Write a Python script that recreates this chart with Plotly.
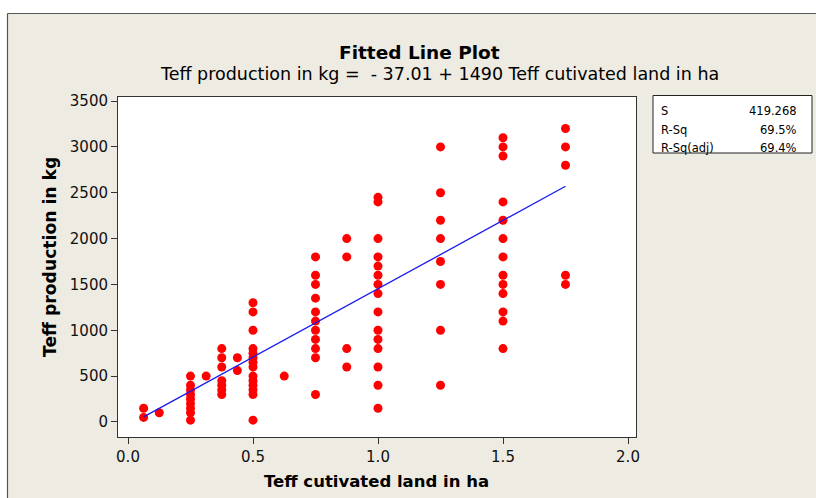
import plotly.graph_objects as go

# ---- data ----
land_ha = (
    [0.0625] * 2 + [0.125] + [0.25] * 9 + [0.3125] + [0.375] * 7 + [0.4375] * 2
    + [0.5] * 14 + [0.625] + [0.75] * 11 + [0.875] * 4 + [1.0] * 15
    + [1.25] * 8 + [1.5] * 13 + [1.75] * 5
)
production_kg = (
    [150, 50]
    + [100]
    + [500, 400, 350, 300, 250, 200, 150, 100, 20]
    + [500]
    + [800, 700, 600, 450, 400, 350, 300]
    + [700, 560]
    + [1300, 1200, 1000, 800, 750, 700, 650, 600, 500, 450, 400, 350, 300, 20]
    + [500]
    + [1800, 1600, 1500, 1350, 1200, 1100, 1000, 900, 800, 700, 300]
    + [2000, 1800, 800, 600]
    + [2450, 2400, 2000, 1800, 1700, 1600, 1500, 1400, 1200, 1000, 900, 800, 600, 400, 150]
    + [3000, 2500, 2200, 2000, 1750, 1500, 1000, 400]
    + [3100, 3000, 2900, 2400, 2200, 2000, 1800, 1600, 1500, 1400, 1200, 1100, 800]
    + [3200, 3000, 2800, 1600, 1500]
)
intercept = -37.01
slope = 1490
stat_names = ["S", "R-Sq", "R-Sq(adj)"]
stat_values = ["419.268", "69.5%", "69.4%"]
x_ticks = [0.0, 0.5, 1.0, 1.5, 2.0]
x_tick_text = ["0.0", "0.5", "1.0", "1.5", "2.0"]
y_ticks = [0, 500, 1000, 1500, 2000, 2500, 3000, 3500]

# ---- layout geometry ----
W, H = 816, 498
L, R, T, B = 118, 636, 97, 437


def px2x(px):
    return (px - L) / (R - L)


def py2y(py):
    return (B - py) / (B - T)


FONT = "DejaVu Sans"
BG = "#EEEBE2"

xmin, xmax = min(land_ha), max(land_ha)
fit_x = [xmin, xmax]
fit_y = [intercept + slope * v for v in fit_x]

fig = go.Figure()
fig.add_trace(go.Scatter(
    x=land_ha, y=production_kg, mode="markers",
    marker=dict(color="#FF0000", size=9, line=dict(width=0)),
    showlegend=False, hoverinfo="skip",
))
fig.add_trace(go.Scatter(
    x=fit_x, y=fit_y, mode="lines",
    line=dict(color="#1A1AF0", width=1.3),
    showlegend=False, hoverinfo="skip",
))

axis_common = dict(
    showgrid=False, zeroline=False, showline=True, linecolor="#333333", linewidth=1,
    mirror=True, ticks="outside", ticklen=6, tickcolor="#333333",
    tickfont=dict(family=FONT, size=15, color="#111111"),
)
fig.update_xaxes(range=[-0.04, 2.032], tickvals=x_ticks, ticktext=x_tick_text, **axis_common)
fig.update_yaxes(range=[-164, 3544], tickvals=y_ticks, **axis_common)

annotations = [
    dict(text="<b>Fitted Line Plot</b>", x=px2x(419), y=py2y(52), xref="paper", yref="paper",
         showarrow=False, font=dict(family=FONT, size=18.5, color="#000000"), xanchor="center", yanchor="middle"),
    dict(text="Teff production in kg = \u00a0- 37.01 + 1490 Teff cutivated land in ha",
         x=px2x(439), y=py2y(74), xref="paper", yref="paper",
         showarrow=False, font=dict(family=FONT, size=17.5, color="#000000"), xanchor="center", yanchor="middle"),
    dict(text="<b>Teff cutivated land in ha</b>", x=px2x(376), y=py2y(481), xref="paper", yref="paper",
         showarrow=False, font=dict(family=FONT, size=16.5, color="#000000"), xanchor="center", yanchor="middle"),
    dict(text="<b>Teff production in kg</b>", x=px2x(50), y=py2y(257), xref="paper", yref="paper",
         textangle=-90, showarrow=False, font=dict(family=FONT, size=17.2, color="#000000"),
         xanchor="center", yanchor="middle"),
]
row_y = [111, 130, 148]
for name, val, ry in zip(stat_names, stat_values, row_y):
    annotations.append(dict(text=name, x=px2x(659), y=py2y(ry), xref="paper", yref="paper",
                            showarrow=False, xanchor="left", yanchor="middle",
                            font=dict(family=FONT, size=11.5, color="#000000")))
    annotations.append(dict(text=val, x=px2x(799), y=py2y(ry), xref="paper", yref="paper",
                            showarrow=False, xanchor="right", yanchor="middle",
                            font=dict(family=FONT, size=11.5, color="#000000")))

shapes = [
    # white outside the frame
    dict(type="rect", xref="paper", yref="paper", x0=px2x(-5), x1=px2x(7.5), y0=py2y(510), y1=py2y(-5),
         fillcolor="white", line=dict(width=0), layer="below"),
    dict(type="rect", xref="paper", yref="paper", x0=px2x(-5), x1=px2x(830), y0=py2y(13.5), y1=py2y(-5),
         fillcolor="white", line=dict(width=0), layer="below"),
    # frame border
    dict(type="line", xref="paper", yref="paper", x0=px2x(7.5), x1=px2x(830), y0=py2y(13.5), y1=py2y(13.5),
         line=dict(color="#555555", width=1.2)),
    dict(type="line", xref="paper", yref="paper", x0=px2x(7.5), x1=px2x(7.5), y0=py2y(13.5), y1=py2y(510),
         line=dict(color="#555555", width=1.2)),
    # stats box
    dict(type="rect", xref="paper", yref="paper", x0=px2x(653), x1=px2x(812), y0=py2y(153), y1=py2y(95.5),
         fillcolor="white", line=dict(color="#222222", width=1)),
]

fig.update_layout(
    width=W, height=H,
    margin=dict(l=L, r=W - R, t=T, b=H - B, pad=0),
    paper_bgcolor=BG, plot_bgcolor="white",
    annotations=annotations, shapes=shapes,
    font=dict(family=FONT),
)

fig.write_html(
    "out.html",
    config={"displayModeBar": False},
    post_script="document.body.style.margin='0';document.body.style.overflow='hidden';",
)
